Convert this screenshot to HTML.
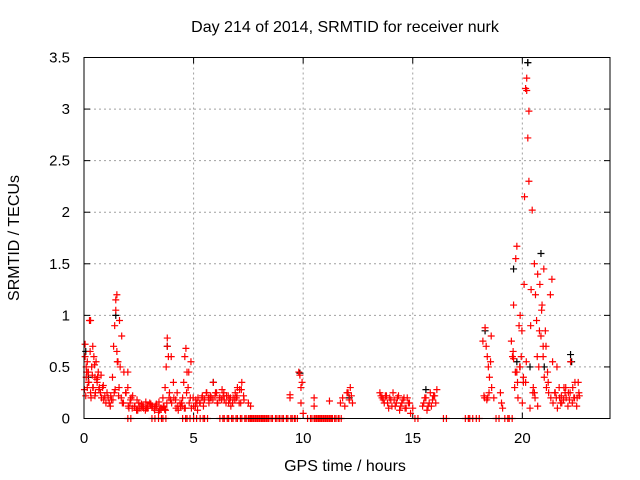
<!DOCTYPE html>
<html><head><meta charset="utf-8"><style>
body{margin:0;background:#fff}
svg{display:block;font-family:"Liberation Sans",sans-serif}
</style></head><body>
<svg id="c" width="640" height="480">
<text x="345" y="32" font-size="16" text-anchor="middle">Day 214 of 2014, SRMTID for receiver nurk</text>
<text x="0" y="0" font-size="16" text-anchor="middle" transform="translate(19,238) rotate(-90)">SRMTID / TECUs</text>
<text x="345" y="471" font-size="16" text-anchor="middle">GPS time / hours</text>
<g id="grid"></g><g id="marks"></g>
<rect x="84" y="57.5" width="526" height="361" fill="none" stroke="#000" stroke-width="1"/>
</svg>
<script>
const xTicks=[0,5,10,15,20];
const yTicks=[0,0.5,1,1.5,2,2.5,3,3.5];
const yTickLabels=["0","0.5","1","1.5","2","2.5","3","3.5"];
const redX=[0.05,0.05,0.1,0.1,0.15,0.15,0.2,0.2,0.25,0.3,0.3,0.35,0.4,0.4,0.45,0.5,0.5,0.55,0.6,0.65,0.7,0.75,0.8,0.85,0.9,1.0,1.1,1.2,1.3,1.35,1.4,1.45,1.45,1.5,1.5,1.55,1.6,1.65,1.7,1.8,1.9,2.0,2.0,2.1,2.2,2.3,2.4,2.5,2.6,2.7,2.8,2.9,3.0,3.1,3.2,3.3,3.4,3.5,3.6,3.7,3.75,3.8,3.8,3.85,3.9,4.0,4.1,4.2,4.3,4.4,4.5,4.55,4.6,4.65,4.7,4.75,4.8,4.9,5.0,5.1,5.2,5.3,5.4,5.5,5.6,5.7,5.8,5.9,6.0,6.1,6.2,6.3,6.4,6.5,6.6,6.7,6.8,6.9,7.0,7.1,7.2,7.3,7.5,7.6,9.4,9.4,9.8,9.85,9.9,9.9,9.95,10.0,10.5,10.5,11.2,11.7,11.8,11.9,12.0,12.1,12.2,13.5,13.6,13.7,13.8,13.9,14.0,14.1,14.2,14.3,14.4,14.5,14.6,14.7,14.8,14.9,15.0,15.5,15.6,15.7,15.8,15.9,16.0,16.1,18.2,18.3,18.35,18.4,18.45,18.5,18.55,18.6,18.7,19.0,19.05,19.1,19.5,19.55,19.6,19.65,19.7,19.7,19.75,19.8,19.85,19.9,19.95,20.0,20.05,20.1,20.15,20.15,20.2,20.2,20.25,20.3,20.3,20.35,20.4,20.45,20.5,20.55,20.6,20.65,20.7,20.75,20.8,20.85,20.9,20.95,21.0,21.05,21.1,21.2,21.3,21.4,21.5,21.6,21.7,21.8,21.9,22.0,22.1,22.2,22.3,22.4,22.5,22.6,0.12,0.22,0.32,0.42,0.52,0.62,1.25,1.38,1.58,1.75,2.05,2.15,2.45,2.65,2.85,3.05,3.25,3.45,3.65,3.72,3.95,4.25,4.45,4.62,4.85,5.15,5.45,5.75,6.05,6.35,6.65,6.95,7.15,18.25,18.42,19.6,19.75,19.9,20.05,20.55,20.7,20.95,21.15,21.35,21.55,21.75,21.95,22.15,22.35,22.55,
0.02,0.08,0.18,0.28,0.38,0.48,0.58,0.68,0.78,0.88,0.95,1.05,1.15,1.22,1.32,1.42,1.52,1.62,1.72,1.82,1.92,2.02,2.12,2.22,2.32,2.42,2.52,2.62,2.72,2.82,2.92,3.02,3.12,3.22,3.32,3.42,3.52,3.62,3.68,3.78,3.88,3.98,4.08,4.18,4.28,4.38,4.48,4.58,4.68,4.78,4.88,4.98,5.08,5.18,5.28,5.38,5.48,5.58,5.68,5.78,5.88,5.98,6.08,6.18,6.28,6.38,6.48,6.58,6.68,6.78,6.88,6.98,7.08,7.18,7.28,12.05,12.15,12.25,13.55,13.65,13.75,13.85,13.95,14.05,14.15,14.25,14.35,14.45,14.55,14.65,14.75,14.85,15.45,15.55,15.65,15.75,15.85,15.95,16.05,18.28,18.38,18.48,18.58,19.58,19.68,19.78,19.88,19.98,20.08,20.18,20.38,20.48,20.58,20.68,20.78,20.88,20.98,21.08,21.18,21.28,21.38,21.48,21.58,21.68,21.78,21.88,21.98,22.08,22.18,22.28,22.38,22.48,22.58];
const redY=[0.6,0.72,0.5,0.4,0.55,0.3,0.45,0.35,0.95,0.95,0.25,0.5,0.7,0.3,0.6,0.4,0.22,0.55,0.35,0.45,0.3,0.25,0.2,0.3,0.18,0.15,0.2,0.12,0.4,0.7,0.9,1.15,1.05,0.65,1.2,0.55,0.3,0.5,0.2,0.15,0.25,0.3,0.45,0.15,0.1,0.12,0.08,0.15,0.1,0.12,0.08,0.1,0.15,0.12,0.1,0.14,0.06,0.1,0.2,0.3,0.5,0.7,0.78,0.6,0.25,0.15,0.2,0.1,0.08,0.12,0.2,0.35,0.6,0.68,0.45,0.3,0.15,0.1,0.12,0.18,0.2,0.15,0.22,0.18,0.25,0.15,0.2,0.35,0.25,0.15,0.2,0.28,0.18,0.22,0.15,0.12,0.2,0.25,0.3,0.28,0.35,0.18,0.15,0.12,0.2,0.23,0.45,0.42,0.3,0.15,0.35,0.05,0.12,0.2,0.17,0.15,0.2,0.12,0.25,0.18,0.22,0.25,0.2,0.15,0.22,0.1,0.18,0.25,0.12,0.2,0.08,0.15,0.2,0.1,0.15,0.05,0.1,0.15,0.2,0.12,0.25,0.18,0.22,0.28,0.75,0.88,0.7,0.6,0.5,0.4,0.55,0.3,0.2,0.25,0.15,0.1,0.75,0.6,1.1,0.3,0.45,1.55,1.67,0.2,0.9,1.0,0.6,0.15,0.4,2.15,0.35,3.2,3.3,3.18,2.72,2.98,2.3,0.1,1.25,2.02,0.3,1.5,1.2,0.95,1.4,0.5,1.3,0.8,1.1,0.6,0.4,0.85,0.3,0.25,0.2,0.15,0.25,0.1,0.2,0.15,0.3,0.2,0.25,0.55,0.3,0.35,0.2,0.22,0.45,0.35,0.2,0.3,0.25,0.4,0.18,0.25,0.22,0.15,0.1,0.2,0.08,0.12,0.1,0.14,0.12,0.08,0.11,0.08,0.18,0.25,0.15,0.1,0.2,0.15,0.12,0.2,0.25,0.22,0.18,0.2,0.15,0.22,0.2,0.58,0.45,0.5,0.35,0.25,0.12,0.7,0.45,1.35,0.2,0.15,0.25,0.18,0.2,0.35,0.28,0.22,
0.45,0.65,0.42,0.52,0.38,0.28,0.42,0.32,0.22,0.25,0.15,0.22,0.18,0.28,0.55,0.95,0.8,0.45,0.25,0.12,0.18,0.22,0.12,0.18,0.1,0.14,0.1,0.16,0.1,0.14,0.12,0.08,0.12,0.16,0.1,0.12,0.09,0.15,0.2,0.6,0.35,0.18,0.12,0.15,0.12,0.1,0.25,0.45,0.55,0.2,0.12,0.08,0.15,0.2,0.18,0.25,0.2,0.22,0.18,0.22,0.15,0.2,0.18,0.25,0.15,0.22,0.2,0.15,0.18,0.22,0.15,0.28,0.22,0.25,0.3,0.15,0.22,0.18,0.22,0.15,0.2,0.12,0.18,0.15,0.22,0.12,0.18,0.1,0.2,0.15,0.12,0.2,0.08,0.15,0.12,0.22,0.15,0.2,0.18,0.25,0.8,0.65,0.45,0.35,0.5,0.85,1.3,0.55,0.9,0.25,0.2,0.6,0.85,1.05,1.45,0.7,0.35,1.2,0.55,0.25,0.5,0.3,0.22,0.18,0.3,0.12,0.25,0.15,0.2,0.12,0.25,0.18,0.22,0.3,0.28,0.25,0.18];
const zeroX=[2.0,3.1,3.4,3.6,4.5,4.7,5.0,5.3,5.5,6.2,6.4,6.6,6.8,7.0,7.2,7.4,7.5,7.6,7.7,7.8,7.9,8.0,8.1,8.2,8.3,8.4,8.6,8.8,8.9,9.1,9.3,9.5,9.6,10.2,10.4,10.5,10.6,10.7,10.8,10.9,11.0,11.1,11.2,11.3,11.5,11.6,15.1,16.4,17.4,17.6,17.9,18.8,19.2,19.4];
const blackX=[0.08,0.2,1.45,3.8,5.9,9.85,12.1,15.6,18.3,19.6,19.75,20.25,20.35,20.85,21.0,22.2,22.25];
const blackY=[0.65,0.4,1.0,0.7,0.35,0.44,0.2,0.28,0.85,1.45,0.55,3.45,0.5,1.6,0.5,0.62,0.55];
const NS="http://www.w3.org/2000/svg";
const X0=84,X1=610,Y0=418.5,Y1=57.5,XMAX=24,YMAX=3.5;
function sx(v){return X0+(X1-X0)*v/XMAX;}
function sy(v){return Y0-(Y0-Y1)*v/YMAX;}
const grid=document.getElementById('grid'),marks=document.getElementById('marks');
function mk(tag,at,parent){const e=document.createElementNS(NS,tag);for(const k in at)e.setAttribute(k,at[k]);parent.appendChild(e);return e;}
xTicks.forEach(t=>{const x=sx(t);
 if(t>0){const g=mk('line',{x1:x,x2:x,y1:Y1,y2:Y0,stroke:'#a0a0a0','stroke-dasharray':'2,3'},grid);
 
 }
 const a=mk('line',{x1:x,x2:x,y1:Y0,y2:Y0-6,stroke:'#000'},grid);
 
 
 mk('line',{x1:x,x2:x,y1:Y1,y2:Y1+6,stroke:'#000'},grid);
 const l=mk('text',{x:x,y:443,'font-size':'15','text-anchor':'middle'},grid);l.textContent=t;
 
 });
yTicks.forEach((t,i)=>{const y=sy(t);
 if(t>0&&t<YMAX){const g=mk('line',{x1:X0,x2:X1,y1:y,y2:y,stroke:'#a0a0a0','stroke-dasharray':'2,3'},grid);
 
 }
 const a=mk('line',{x1:X0,x2:X0+6,y1:y,y2:y,stroke:'#000'},grid);
 
 
 mk('line',{x1:X1,x2:X1-6,y1:y,y2:y,stroke:'#000'},grid);
 const l=mk('text',{x:70,y:y+5,'font-size':'15','text-anchor':'end'},grid);l.textContent=yTickLabels[i];
 
 });
function plus(x,y,col,name){const p=mk('path',{d:`M${x-3.5},${y}h7M${x},${y-3.5}v7`,stroke:col,'stroke-width':'1.2',fill:'none'},marks);
 
 }
blackX.forEach((v,i)=>plus(sx(v),sy(blackY[i]),'#000','black-point'));
redX.forEach((v,i)=>plus(sx(v),sy(redY[i]),'#f00','srmtid-point'));
zeroX.forEach(v=>{plus(sx(v),sy(0),'#f00','zero-point');plus(sx(v)+3,sy(0),'#f00','zero-point');});
plus(sx(20.25),sy(3.45),'#000','black-point');
</script>
</body></html>
